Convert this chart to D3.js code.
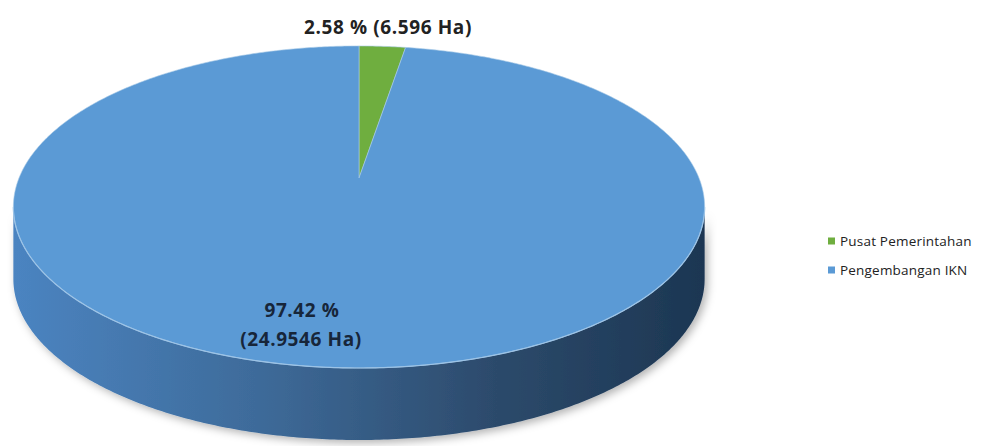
<!DOCTYPE html>
<html><head><meta charset="utf-8">
<script src="https://cdn.jsdelivr.net/npm/d3@7"></script>
<style>html,body{margin:0;padding:0;background:#fff;}svg{display:block;}</style>
</head><body>
<script>
const categories = ["Pusat Pemerintahan", "Pengembangan IKN"];
const percents = [2.58, 97.42];
const areas = ["6.596", "24.9546"];
const colors = ["#6fae3f", "#5b9ad5"];

const W = 982, H = 446;
const svg = d3.select("body").append("svg").attr("width", W).attr("height", H);
const defs = svg.append("defs");

const sideGrad = defs.append("linearGradient").attr("id", "sideGrad")
  .attr("x1", "0").attr("x2", "1").attr("y1", "0").attr("y2", "0");
[["0%", "#4b84c1"], ["35%", "#3e6b9a"], ["70%", "#2c4a6b"], ["100%", "#1c3652"]]
  .forEach(([o, c]) => sideGrad.append("stop").attr("offset", o).attr("stop-color", c));

const shadow = defs.append("filter").attr("id", "shadow")
  .attr("x", "-10%").attr("y", "-10%").attr("width", "130%").attr("height", "140%");
shadow.append("feDropShadow").attr("dx", 3).attr("dy", 3).attr("stdDeviation", 4)
  .attr("flood-color", "#000").attr("flood-opacity", 0.3);

// perspective projection of a unit disk
const cx = 359, cy = 178, A = 340, B = 155.8, k = 0.18, D = 72;
const proj = (theta, dz = 0) => {
  const u = Math.sin(theta), v = -Math.cos(theta);
  const w = 1 - k * v;
  return [cx + A * u / w, cy + B * v / w + dz];
};
const arcPts = (a0, a1, dz = 0) => {
  const n = Math.max(2, Math.ceil((a1 - a0) / 0.01));
  return d3.range(n + 1).map(i => proj(a0 + (a1 - a0) * i / n, dz));
};

const pie = d3.pie().sort(null).value(d => d)(percents);
const line = d3.line();

const g = svg.append("g");

// side (visible front part)
const t1 = Math.acos(-k), t2 = 2 * Math.PI - Math.acos(-k);
const sideG = g.append("g").attr("filter", "url(#shadow)");
pie.forEach((p, i) => {
  const a0 = Math.max(p.startAngle, t1), a1 = Math.min(p.endAngle, t2);
  if (a1 <= a0) return;
  const top = arcPts(a0, a1), bot = arcPts(a0, a1, D).reverse();
  sideG.append("path").attr("d", line(top.concat(bot)) + "Z")
    .attr("fill", i === 1 ? "url(#sideGrad)" : d3.color(colors[i]).darker(1));
});

// top faces
pie.forEach((p, i) => {
  const pts = [[cx, cy]].concat(arcPts(p.startAngle, p.endAngle));
  g.append("path").attr("d", line(pts) + "Z")
    .attr("fill", colors[i]).attr("stroke", "#a9cbe8").attr("stroke-width", 0.6)
    .attr("stroke-linejoin", "round");
});

// highlight along front edge
g.append("path").attr("d", line(arcPts(t1, t2)))
  .attr("fill", "none").attr("stroke", "#9cc3e6").attr("stroke-width", 1.2);

// labels
const font = "'Open Sans', 'DejaVu Sans', sans-serif";
svg.append("text").attr("x", 388).attr("y", 34).attr("text-anchor", "middle")
  .attr("font-family", font).attr("font-weight", 700).attr("font-size", 19)
  .attr("letter-spacing", 0.6)
  .attr("fill", "#222").text(`${percents[0].toFixed(2)} % (${areas[0]} Ha)`);
const lab = svg.append("text").attr("text-anchor", "middle")
  .attr("font-family", font).attr("font-weight", 700).attr("font-size", 19)
  .attr("letter-spacing", 0.6).attr("fill", "#17263a");
lab.append("tspan").attr("x", 302).attr("y", 317).text(`${percents[1].toFixed(2)} %`);
lab.append("tspan").attr("x", 301).attr("y", 346).text(`(${areas[1]} Ha)`);

// legend
const leg = svg.append("g").attr("transform", "translate(828,241)");
categories.forEach((c, i) => {
  const r = leg.append("g").attr("transform", `translate(0,${i * 29})`);
  r.append("rect").attr("x", 0).attr("y", -3.5).attr("width", 7).attr("height", 7).attr("fill", colors[i]);
  r.append("text").attr("x", 12).attr("y", 4.5).attr("font-family", font).attr("font-size", 13.5)
    .attr("letter-spacing", 0.2).attr("fill", "#222").text(c);
});
</script>
</body></html>
